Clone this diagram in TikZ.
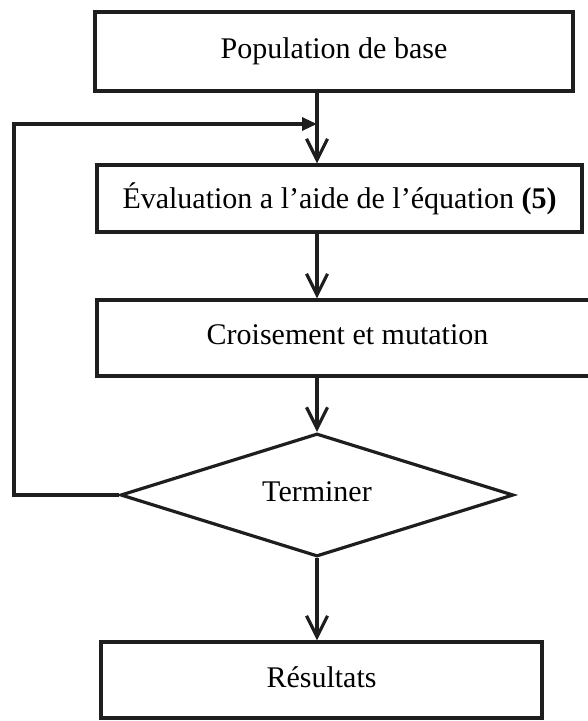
\documentclass[tikz,border=0pt]{standalone}
\usepackage{fontspec}
\setmainfont{Liberation Serif}
\usetikzlibrary{arrows.meta,shapes.geometric}
\definecolor{ink}{RGB}{30,30,30}
\begin{document}
\begin{tikzpicture}[x=1pt,y=-1pt,
  line width=3.2pt,
  stepbox/.style={draw=ink, rectangle, inner sep=0pt, text=black,
    font=\fontsize{30}{35}\selectfont},
  choice/.style={draw=ink, diamond, aspect=3.2, inner sep=0pt, text=black,
    font=\fontsize{30}{35}\selectfont},
  flow/.style={draw=ink, -{Straight Barb[length=21pt,width=21pt]}},
  back/.style={draw=ink, line join=miter, -{Triangle[length=15pt,width=13pt]}}
]
\useasboundingbox (0,0) rectangle (587,721);

% process steps
\node[stepbox, minimum width=478pt, minimum height=79pt] (pop) at (334,51.5)
  {\raisebox{3pt}{Population de base}};
\node[stepbox, minimum width=485pt, minimum height=67pt] (eval) at (339.5,198.5)
  {Évaluation a l’aide de l’équation \textbf{(5)}};
\node[stepbox, minimum width=501pt, minimum height=76pt] (cross) at (347.5,338)
  {\raisebox{6pt}{Croisement et mutation}};
\node[choice, minimum width=393pt, minimum height=123pt] (dec) at (317,495)
  {\raisebox{7pt}{Terminer}};
\node[stepbox, minimum width=441pt, minimum height=76pt] (res) at (321.5,680)
  {\raisebox{5pt}{Résultats}};

% junction of the feedback loop and the left rail
\coordinate (join) at (317,124);
\coordinate (rail) at (14,124);

% main flow
\draw[flow] (pop.south -| join) -- (eval.north -| join);
\draw[flow] (eval.south -| join) -- (cross.north -| join);
\draw[flow] (cross.south -| dec.north) -- (dec.north);
\draw[flow] (dec.south) -- (res.north -| dec.south);

% feedback loop
\draw[back] (dec.west) -| (rail) -- (join);
\end{tikzpicture}
\end{document}
